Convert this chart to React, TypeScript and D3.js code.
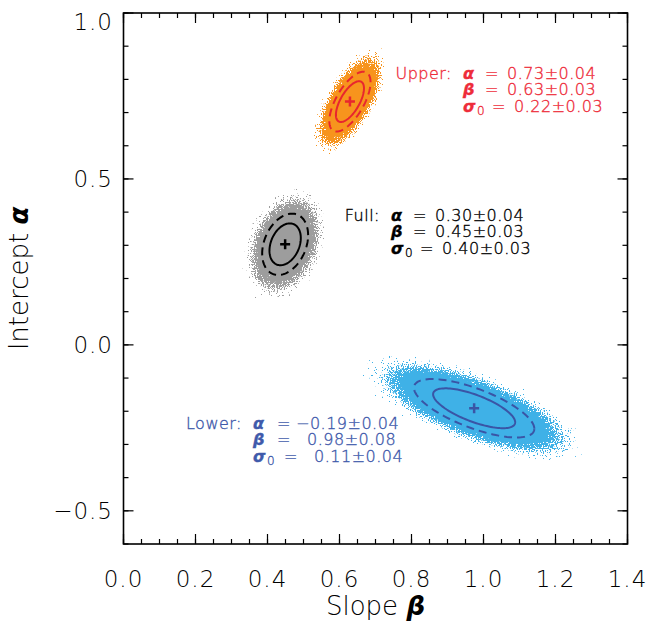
import React from "react";
import * as d3 from "d3";

// posterior samples summarised per subset: medians, spreads and correlation
const GROUPS = ["Full", "Upper", "Lower"];
const BETA_CENTER = [0.449, 0.629, 0.974];
const ALPHA_CENTER = [0.303, 0.733, -0.191];
const BETA_SPREAD = [0.029, 0.026, 0.076];
const ALPHA_SPREAD = [0.042, 0.041, 0.04];
const CORRELATION = [0.3, 0.65, -0.7];
const CONTOUR_LEVELS = [1.5, 2.2]; // solid, dashed

const ALPHA_TEXT = ["0.30±0.04", "0.73±0.04", "−0.19±0.04"];
const BETA_TEXT = ["0.45±0.03", "0.63±0.03", "0.98±0.08"];
const SIGMA_TEXT = ["0.40±0.03", "0.22±0.03", "0.11±0.04"];

const X_TICKS = [0, 0.2, 0.4, 0.6, 0.8, 1.0, 1.2, 1.4];
const Y_TICKS = [-0.5, 0, 0.5, 1.0];

// styling / layout
const CLOUD_COLOR = ["#9d9d9d", "#f7941d", "#3fb1e7"];
const LINE_COLOR = ["#000000", "#e8262e", "#3a55a6"];
const TEXT_COLOR = ["#000000", "#ee2c3a", "#3f5aab"];
const LABEL_XY = [
  [391, 215],
  [463, 73],
  [253, 423],
];
const EQ_DX = [22, 22, 24];
const VALUE_DX = [44, 44, 54];

const W = 646;
const H = 623;
const FONT = "'DejaVu Sans', sans-serif";

const x = d3.scaleLinear().domain([0, 1.4]).range([123.5, 627.5]);
const y = d3.scaleLinear().domain([-0.6, 1.0]).range([544, 13]);

const ellipse = (i: number, k: number) => {
  const rho = CORRELATION[i];
  const s = Math.sqrt(1 - rho * rho);
  const pts = d3.range(0, 361, 3).map((deg) => {
    const t = (deg * Math.PI) / 180;
    const b = BETA_CENTER[i] + k * BETA_SPREAD[i] * Math.cos(t);
    const a =
      ALPHA_CENTER[i] +
      k * ALPHA_SPREAD[i] * (rho * Math.cos(t) + s * Math.sin(t));
    return [x(b), y(a)] as [number, number];
  });
  return d3.line()(pts) + "Z";
};

const Greek = ({ children }: { children: React.ReactNode }) => (
  <tspan fontWeight="bold" fontStyle="italic">
    {children}
  </tspan>
);

export default function App() {
  const kx = x(1) - x(0);
  const ky = y(0) - y(1);
  const fmt = d3.format(".1f");
  const xMinor = d3.range(0, 1.4001, 0.05);
  const yMinor = d3.range(-0.6, 1.0001, 0.1);
  const [x0, x1] = x.range();
  const [y0, y1] = y.range();

  return (
    <svg
      width={W}
      height={H}
      style={{ position: "absolute", left: 0, top: 0, background: "#fff" }}
      fontFamily={FONT}
    >
      <defs>
        <radialGradient id="fade">
          <stop offset="0" stopColor="#fff" stopOpacity={1} />
          <stop offset="0.5" stopColor="#fff" stopOpacity={1} />
          <stop offset="0.62" stopColor="#fff" stopOpacity={0.78} />
          <stop offset="0.8" stopColor="#fff" stopOpacity={0.47} />
          <stop offset="1" stopColor="#fff" stopOpacity={0.3} />
        </radialGradient>
        {GROUPS.map((g, i) => (
          <filter
            key={g}
            id={`speckle-${i}`}
            x="-5%"
            y="-5%"
            width="110%"
            height="110%"
            colorInterpolationFilters="sRGB"
          >
            <feTurbulence
              type="fractalNoise"
              baseFrequency="0.85"
              numOctaves={1}
              seed={i * 7 + 3}
              result="noise"
            />
            <feColorMatrix
              in="noise"
              type="matrix"
              values="0 0 0 0 0  0 0 0 0 0  0 0 0 0 0  1 0 0 0 0"
              result="na"
            />
            <feComposite
              in="SourceAlpha"
              in2="na"
              operator="arithmetic"
              k1={0}
              k2={1}
              k3={1}
              k4={-0.5}
              result="sum"
            />
            <feComponentTransfer in="sum" result="mask">
              <feFuncA type="linear" slope={30} intercept={-18} />
            </feComponentTransfer>
            <feFlood floodColor={CLOUD_COLOR[i]} />
            <feComposite in2="mask" operator="in" />
          </filter>
        ))}
      </defs>

      {/* sample clouds */}
      {GROUPS.map((g, i) => {
        const rho = CORRELATION[i];
        const a = kx * BETA_SPREAD[i];
        const b = -ky * ALPHA_SPREAD[i] * rho;
        const d = -ky * ALPHA_SPREAD[i] * Math.sqrt(1 - rho * rho);
        return (
          <g key={g} filter={`url(#speckle-${i})`}>
            <g
              transform={`matrix(${a} ${b} 0 ${d} ${x(BETA_CENTER[i])} ${y(
                ALPHA_CENTER[i]
              )})`}
            >
              <circle r={4.4} fill="url(#fade)" />
            </g>
          </g>
        );
      })}

      {/* contours and medians */}
      {GROUPS.map((g, i) => (
        <g key={g} stroke={LINE_COLOR[i]} fill="none" strokeWidth={2}>
          <path d={ellipse(i, CONTOUR_LEVELS[0])} />
          <path d={ellipse(i, CONTOUR_LEVELS[1])} strokeDasharray="8,5" />
          <path
            d={`M${x(BETA_CENTER[i]) - 5},${y(ALPHA_CENTER[i])}h10M${x(
              BETA_CENTER[i]
            )},${y(ALPHA_CENTER[i]) - 5}v10`}
            strokeWidth={2.5}
          />
        </g>
      ))}

      {/* annotations */}
      {GROUPS.map((g, i) => {
        const [lx, ly] = LABEL_XY[i];
        const lines = [
          { sym: "α", sub: "", val: ALPHA_TEXT[i], extra: 0 },
          { sym: "β", sub: "", val: BETA_TEXT[i], extra: 0 },
          { sym: "σ", sub: "0", val: SIGMA_TEXT[i], extra: 7 },
        ];
        return (
          <g
            key={g}
            fill={TEXT_COLOR[i]}
            stroke={TEXT_COLOR[i]}
            strokeWidth={0.35}
            fontSize={16}
            fontWeight={200}
            letterSpacing={0.5}
          >
            <text x={lx - 11} y={ly} dy="0.35em" textAnchor="end">
              {g}:
            </text>
            {lines.map((ln, j) => {
              const yy = ly + j * 16.5;
              const neg = ln.val.startsWith("−");
              return (
                <text key={j} y={yy} dy="0.35em">
                  <tspan x={lx} fontWeight="bold" fontStyle="italic">
                    {ln.sym}
                  </tspan>
                  {ln.sub && (
                    <tspan fontSize={12} dy="0.3em" dx="1">
                      {ln.sub}
                    </tspan>
                  )}
                  <tspan x={lx + EQ_DX[i] + ln.extra} y={yy} dy="0.35em">
                    =
                  </tspan>
                  <tspan x={lx + VALUE_DX[i] + ln.extra - (neg ? 11 : 0)}>
                    {ln.val}
                  </tspan>
                </text>
              );
            })}
          </g>
        );
      })}

      {/* axes box with inward ticks on all sides */}
      <g stroke="#000" strokeWidth={1.2}>
        {xMinor.map((v) => (
          <g key={`xm${v}`}>
            <line x1={x(v)} x2={x(v)} y1={y0} y2={y0 - 5} />
            <line x1={x(v)} x2={x(v)} y1={y1} y2={y1 + 5} />
          </g>
        ))}
        {X_TICKS.map((v) => (
          <g key={`xM${v}`}>
            <line x1={x(v)} x2={x(v)} y1={y0} y2={y0 - 10} />
            <line x1={x(v)} x2={x(v)} y1={y1} y2={y1 + 10} />
          </g>
        ))}
        {yMinor.map((v) => (
          <g key={`ym${v}`}>
            <line x1={x0} x2={x0 + 5} y1={y(v)} y2={y(v)} />
            <line x1={x1} x2={x1 - 5} y1={y(v)} y2={y(v)} />
          </g>
        ))}
        {Y_TICKS.map((v) => (
          <g key={`yM${v}`}>
            <line x1={x0} x2={x0 + 10} y1={y(v)} y2={y(v)} />
            <line x1={x1} x2={x1 - 10} y1={y(v)} y2={y(v)} />
          </g>
        ))}
        <rect
          x={x0}
          y={y1}
          width={x1 - x0}
          height={y0 - y1}
          fill="none"
          strokeWidth={1.6}
        />
      </g>

      <g fontSize={23} fontWeight={200} letterSpacing={1}>
        {X_TICKS.map((v) => (
          <text key={v} x={x(v)} y={587} textAnchor="middle">
            {fmt(v)}
          </text>
        ))}
        {Y_TICKS.map((v) => (
          <text
            key={v}
            x={113}
            y={v === 1.0 ? y(v) + 9 : y(v)}
            dy="0.36em"
            textAnchor="end"
          >
            {fmt(v)}
          </text>
        ))}
      </g>

      <text
        x={(x0 + x1) / 2}
        y={615}
        textAnchor="middle"
        fontSize={26}
        fontWeight={200}
      >
        Slope <Greek>β</Greek>
      </text>
      <text
        transform={`translate(28,${(y0 + y1) / 2}) rotate(-90)`}
        textAnchor="middle"
        fontSize={26}
        fontWeight={200}
      >
        Intercept <Greek>α</Greek>
      </text>
    </svg>
  );
}
